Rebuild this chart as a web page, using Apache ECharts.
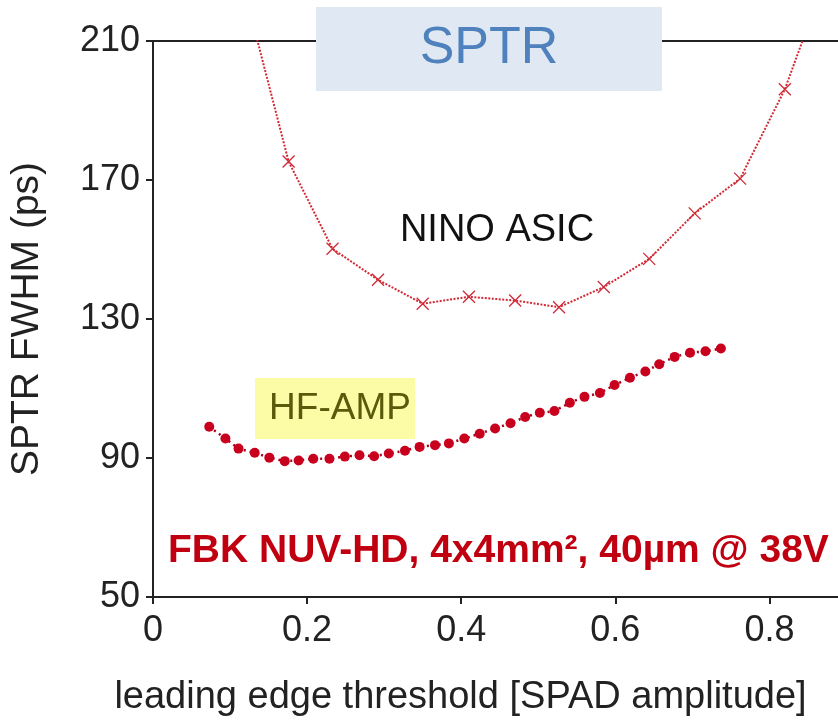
<!DOCTYPE html>
<html>
<head>
<meta charset="utf-8">
<script src="https://cdn.jsdelivr.net/npm/echarts@6/dist/echarts.min.js"></script>
<style>
  html, body { margin: 0; padding: 0; background: #fff; }
  #main { width: 838px; height: 722px; }
</style>
</head>
<body>
<div id="main"></div>
<script>
// NINO ASIC (crosses) - first and last points sit above the 210 ps frame
var ninoX = [0.117, 0.176, 0.233, 0.292, 0.350, 0.410, 0.470, 0.527, 0.585, 0.644, 0.703, 0.762, 0.820, 0.879];
var ninoY = [226, 175.3, 150.2, 141.3, 134.4, 136.4, 135.3, 133.4, 139.2, 147.3, 160.4, 170.4, 196.1, 232];

// HF-AMP (dots)
var hfX = [0.073, 0.094, 0.111, 0.132, 0.151, 0.171, 0.189, 0.208, 0.229, 0.249,
  0.268, 0.287, 0.306, 0.327, 0.346, 0.366, 0.384, 0.404, 0.424, 0.444,
  0.464, 0.483, 0.502, 0.521, 0.541, 0.560, 0.580, 0.599, 0.619, 0.639,
  0.657, 0.677, 0.697, 0.717, 0.737];
var hfY = [99.0, 95.6, 92.7, 91.5, 90.1, 89.1, 89.3, 89.8, 89.8, 90.4,
  90.8, 90.5, 91.3, 92.1, 93.2, 93.7, 94.2, 95.6, 97.0, 98.5,
  100.0, 101.8, 103.0, 103.5, 105.9, 107.6, 108.7, 111.0, 113.1, 114.9,
  117.0, 119.1, 120.3, 120.7, 121.5];

var xTicks = { min: 0, max: 0.889, interval: 0.2 };
var yTicks = { min: 50, max: 210, interval: 40 };

function pairs(xs, ys) {
  var out = [];
  for (var i = 0; i < xs.length; i++) {
    out.push([xs[i], ys[i]]);
  }
  return out;
}

var FONT = '"Liberation Sans", Arial, sans-serif';
var AXIS_COLOR = '#222';

var chart = echarts.init(document.getElementById('main'), null, { renderer: 'canvas' });

var option = {
  animation: false,
  backgroundColor: '#fff',
  grid: {
    left: 153,
    right: 0,
    top: 41,
    bottom: 124
  },
  xAxis: [
    {
      type: 'value',
      min: xTicks.min,
      max: xTicks.max,
      interval: xTicks.interval,
      name: 'leading edge threshold [SPAD amplitude]',
      nameLocation: 'middle',
      nameGap: 82,
      // name is centred a bit left of the plot centre in the original
      nameTextStyle: { fontFamily: FONT, fontSize: 38, color: AXIS_COLOR, padding: [0, 70, 0, 0] },
      splitLine: { show: false },
      axisLine: { lineStyle: { color: AXIS_COLOR, width: 2 } },
      axisTick: { length: 7, lineStyle: { color: AXIS_COLOR, width: 2 } },
      axisLabel: {
        showMaxLabel: false,
        margin: 16,
        fontFamily: FONT,
        fontSize: 36,
        color: AXIS_COLOR
      }
    },
    {
      // top frame line
      type: 'value',
      position: 'top',
      min: xTicks.min,
      max: xTicks.max,
      splitLine: { show: false },
      axisLine: { show: true, lineStyle: { color: AXIS_COLOR, width: 2 } },
      axisTick: { show: false },
      axisLabel: { show: false }
    }
  ],
  yAxis: {
    type: 'value',
    min: yTicks.min,
    max: yTicks.max,
    interval: yTicks.interval,
    name: 'SPTR FWHM (ps)',
    nameLocation: 'middle',
    nameGap: 106,
    nameTextStyle: { fontFamily: FONT, fontSize: 39, color: AXIS_COLOR, padding: [0, 0, 0, 0] },
    splitLine: { show: false },
    axisLine: { show: true, lineStyle: { color: AXIS_COLOR, width: 2 } },
    axisTick: { show: true, length: 7, lineStyle: { color: AXIS_COLOR, width: 2 } },
    axisLabel: { margin: 13, fontFamily: FONT, fontSize: 36, color: AXIS_COLOR }
  },
  series: [
    {
      name: 'NINO ASIC',
      type: 'line',
      data: pairs(ninoX, ninoY),
      clip: true,
      symbol: 'path://M0,0L10,10M10,0L0,10',
      symbolSize: 12,
      itemStyle: { color: '#d02a36', borderColor: '#d02a36', borderWidth: 1.3 },
      lineStyle: { color: '#d02a36', width: 2, type: [2, 1.5] }
    },
    {
      name: 'HF-AMP',
      type: 'line',
      data: pairs(hfX, hfY),
      clip: true,
      symbol: 'circle',
      symbolSize: 10,
      itemStyle: { color: '#c8001e' },
      lineStyle: { color: '#a8001a', width: 2.5, type: [2, 4] }
    }
  ],
  graphic: [
    {
      type: 'rect',
      z: 100,
      shape: { x: 316, y: 7, width: 346, height: 84 },
      style: { fill: '#e0e9f3' }
    },
    {
      type: 'text',
      z: 101,
      x: 489,
      y: 49,
      style: {
        text: 'SPTR',
        fill: '#4f81bd',
        font: '52px ' + FONT,
        textAlign: 'center',
        textVerticalAlign: 'middle'
      }
    },
    {
      type: 'text',
      z: 101,
      x: 497,
      y: 231,
      style: {
        text: 'NINO ASIC',
        fill: '#111',
        font: '38px ' + FONT,
        textAlign: 'center',
        textVerticalAlign: 'middle'
      }
    },
    {
      type: 'rect',
      z: 100,
      shape: { x: 255, y: 378, width: 160, height: 61 },
      style: { fill: '#fdfca6' }
    },
    {
      type: 'text',
      z: 101,
      x: 340,
      y: 409,
      style: {
        text: 'HF-AMP',
        fill: '#5a5a0c',
        font: '37px ' + FONT,
        textAlign: 'center',
        textVerticalAlign: 'middle'
      }
    },
    {
      type: 'text',
      z: 101,
      x: 168,
      y: 551,
      style: {
        text: 'FBK NUV-HD, 4x4mm\u00b2, 40\u00b5m @ 38V',
        fill: '#c00010',
        font: 'bold 39px ' + FONT,
        textAlign: 'left',
        textVerticalAlign: 'middle'
      }
    }
  ]
};

chart.setOption(option);
</script>
</body>
</html>
